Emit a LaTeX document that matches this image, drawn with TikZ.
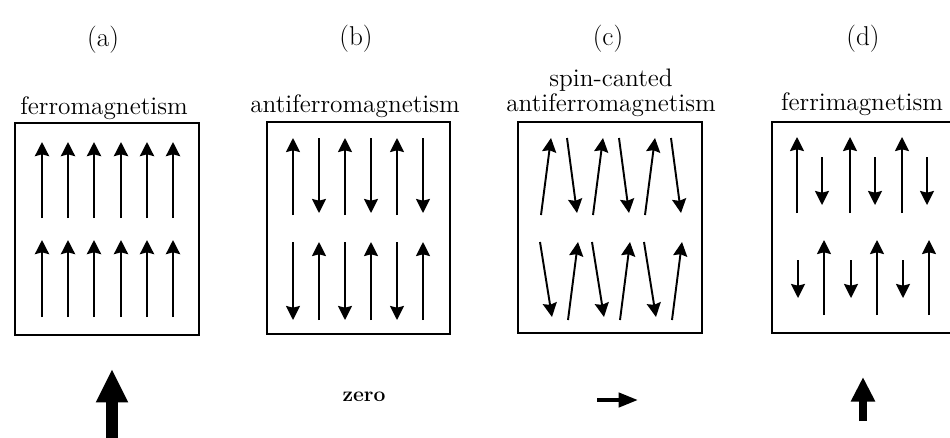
\documentclass[tikz,border=0pt]{standalone}
\usetikzlibrary{arrows.meta}
\begin{document}
\begin{tikzpicture}[
      x=0.02cm, y=-0.02cm,
      every node/.style={font=\fontsize{14.4}{17}\selectfont, inner sep=0pt},
      tag/.style={font=\fontsize{15.5}{18}\selectfont},
      ttl/.style={anchor=base, align=center},
      box/.style={draw, line width=1pt},
      spin/.style={line width=1.1pt, -{Stealth[length=8pt, width=8pt, inset=1pt]}},
    ]
    \useasboundingbox (0,0) rectangle (950,437);

    % (a) ferromagnetism
    \node[tag] (la) at (103,40) {(a)};
    \node[ttl] (ta) at (104,114) {ferromagnetism};
    \draw[box] (15,123) rectangle (199,335);
    \foreach \x in {42,68,94,121,147,173} {
      \draw[spin, line width=1.5pt] (\x,218) -- (\x,142);
      \draw[spin, line width=1.5pt] (\x,317) -- (\x,240);
    }
    \draw[line width=6.5pt, -{Triangle[length=19pt, width=17pt]}] (112,440) -- (112,369);

    % (b) antiferromagnetism
    \node[tag] (lb) at (356,39) {(b)};
    \node[ttl] (tb) at (355,112) {antiferromagnetism};
    \draw[box] (267,122) rectangle (450,334);
    \foreach \x in {293,345,397} {
      \draw[spin] (\x,215) -- (\x,138);
      \draw[spin] (\x+26,138) -- (\x+26,213);
      \draw[spin] (\x,242) -- (\x,320);
      \draw[spin] (\x+26,320) -- (\x+26,242);
    }
    \node[font=\fontsize{12}{14}\selectfont\bfseries, anchor=base] (zb) at (364,401) {zero};

    % (c) spin-canted
    \node[tag] (lc) at (608,39) {(c)};
    \node[ttl, font=\fontsize{14.4}{12.5}\selectfont] (tc) at (611,111) {spin-canted\\antiferromagnetism};
    \draw[box] (518,122) rectangle (702,333);
    \foreach \x in {546,598,650} {
      \draw[spin] (\x-5,215) -- (\x+5,138);
      \draw[spin] (\x+21,138) -- (\x+31,213);
      \draw[spin] (\x-6,242) -- (\x+6,317);
      \draw[spin] (\x+22,320) -- (\x+32,242);
    }
    \draw[line width=2.3pt, -{Triangle[length=11pt, width=8pt]}] (597,400) -- (638,400);

    % (d) ferrimagnetism
    \node[tag] (ld) at (863,39) {(d)};
    \node[ttl] (td) at (862,110) {ferrimagnetism};
    \draw[box] (955,122) -- (772,122) -- (772,333) -- (955,333);
    \foreach \x in {797,850,902} {
      \draw[spin] (\x,213) -- (\x,137);
      \draw[spin] (\x+25,157) -- (\x+25,205);
      \draw[spin] (\x+1,260) -- (\x+1,298);
      \draw[spin] (\x+27,315) -- (\x+27,240);
    }
    \draw[line width=4.5pt, -{Triangle[length=14pt, width=13pt]}] (863,421) -- (863,377);
  \end{tikzpicture}
\end{document}
